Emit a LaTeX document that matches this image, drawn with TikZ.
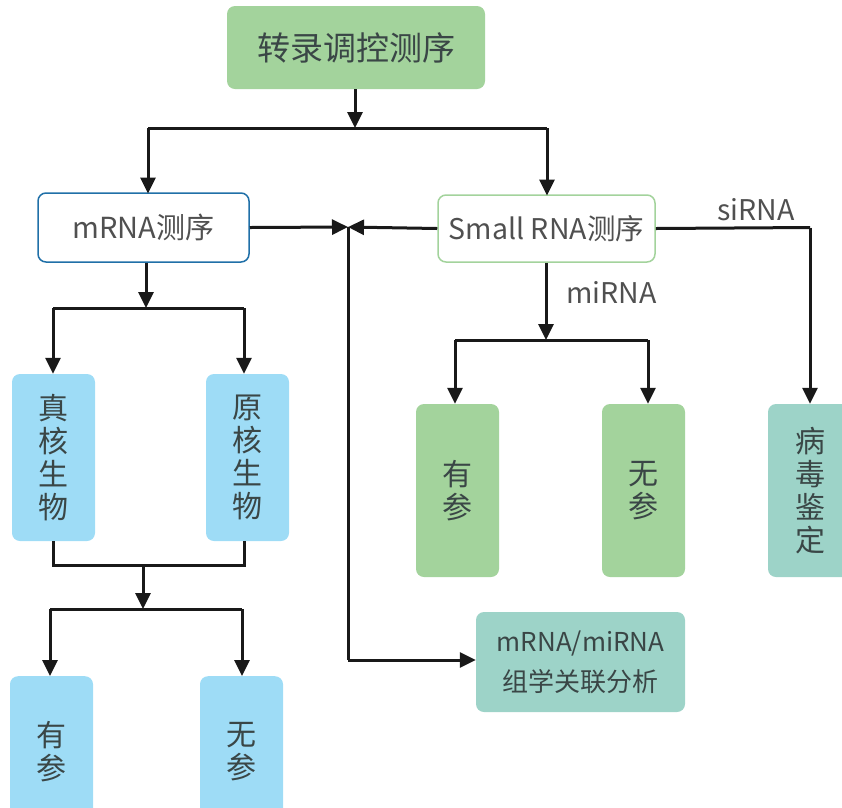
\documentclass[tikz,border=0pt]{standalone}
\usepackage{fontspec}
\newfontfamily\cjk{Noto Sans CJK SC}
\usetikzlibrary{arrows.meta}
\definecolor{gboxc}{HTML}{A3D39C}
\definecolor{bboxc}{HTML}{9EDCF6}
\definecolor{tboxc}{HTML}{9DD3C8}
\definecolor{blueedge}{HTML}{2070A8}
\definecolor{txtc}{HTML}{3A4646}
\definecolor{graytxt}{HTML}{505050}
\tikzset{
  box/.style={rounded corners=8pt, minimum width=#1, inner sep=0pt, text=txtc, align=center},
  conn/.style={line width=3pt, draw=black!90},
  arr/.style={conn, -{Triangle[length=16pt,width=15pt]}},
  lab/.style={font=\cjk\fontsize{28.5}{32}\selectfont, text=graytxt, inner sep=0pt},
  vtext/.style={font=\cjk\fontsize{30}{33}\selectfont}
}
\begin{document}
\begin{tikzpicture}[x=1pt,y=-1pt]
\useasboundingbox (0,0) rectangle (842,807);
\clip (0,0) rectangle (842,807);
% boxes
\node[box=258pt, minimum height=83pt, fill=gboxc, font=\cjk\fontsize{33}{36}\selectfont] (top) at (356,47.5) {转录调控测序};
\node[box=211pt, minimum height=69pt, fill=white, draw=blueedge, line width=1.5pt, text=graytxt, font=\cjk\fontsize{29}{32}\selectfont] (mrna) at (143.5,227.5) {mRNA测序};
\node[box=217pt, minimum height=67pt, fill=white, draw=gboxc, line width=1.5pt, text=graytxt, font=\cjk\fontsize{28.5}{32}\selectfont] (small) at (546.5,228.5) {Small RNA测序};
\node[box=83pt, minimum height=167pt, fill=bboxc, vtext] (zhen) at (53.5,457.5) {真\\核\\生\\物};
\node[box=83pt, minimum height=167pt, fill=bboxc, vtext] (yuan) at (247.5,457.5) {原\\核\\生\\物};
\node[box=83pt, minimum height=150pt, fill=bboxc, vtext, anchor=north] (you1) at (51.5,676) {有\\参};
\node[box=83pt, minimum height=150pt, fill=bboxc, vtext, anchor=north] (wu1) at (241.5,676) {无\\参};
\node[box=83pt, minimum height=173pt, fill=gboxc, vtext] (you2) at (457.5,490.5) {有\\参};
\node[box=83pt, minimum height=173pt, fill=gboxc, vtext] (wu2) at (643.5,490.5) {无\\参};
\node[box=84pt, minimum height=173pt, fill=tboxc, vtext] (bing) at (810,490.5) {病\\毒\\鉴\\定};
\node[box=209pt, minimum height=100pt, fill=tboxc, font=\cjk\fontsize{26}{40}\selectfont] (assoc) at (580.5,662) {mRNA/miRNA\\组学关联分析};
% coordinates
\coordinate (j1) at (355,128);
\coordinate (j2) at (146,308);
\coordinate (j3) at (143,565);
\coordinate (j4) at (546,340);
\coordinate (mid) at (348,227);
% connectors
\draw[arr] (top.south -| j1) -- (j1);
\draw[conn] (148,128) -- (547,128);
\draw[arr] (148,128) -- (148,193.5);
\draw[arr] (547,128) -- (547,195.5);
\draw[arr] (mrna.east) -- (mid);
\draw[arr] (small.west) -- (mid);
\draw[conn] (mid) -- (348,660);
\draw[arr] (348,660) -- (assoc.west |- 0,660);
\draw[arr] (mrna.south -| j2) -- (j2);
\draw[conn] (53,308) -- (244,308);
\draw[arr] (53,308) -- (zhen.north -| 53,0);
\draw[arr] (244,308) -- (yuan.north -| 244,0);
\draw[conn] (zhen.south -| 53,0) -- (53,565) -- (244,565) -- (yuan.south -| 244,0);
\draw[arr] (j3) -- (143,609);
\draw[conn] (50,609) -- (242,609);
\draw[arr] (50,609) -- (you1.north -| 50,0);
\draw[arr] (242,609) -- (wu1.north -| 242,0);
\draw[arr] (small.south -| j4) -- (j4);
\draw[conn] (455,340) -- (648,340);
\draw[arr] (455,340) -- (you2.north -| 455,0);
\draw[arr] (648,340) -- (wu2.north -| 648,0);
\draw[conn] (small.east) -- (810,227.5);
\draw[arr] (810,227.5) -- (bing.north);
% labels
\node[lab, anchor=west] (mirna) at (566,292) {miRNA};
\node[lab, anchor=west] (sirna) at (717,210) {siRNA};
\end{tikzpicture}
\end{document}
